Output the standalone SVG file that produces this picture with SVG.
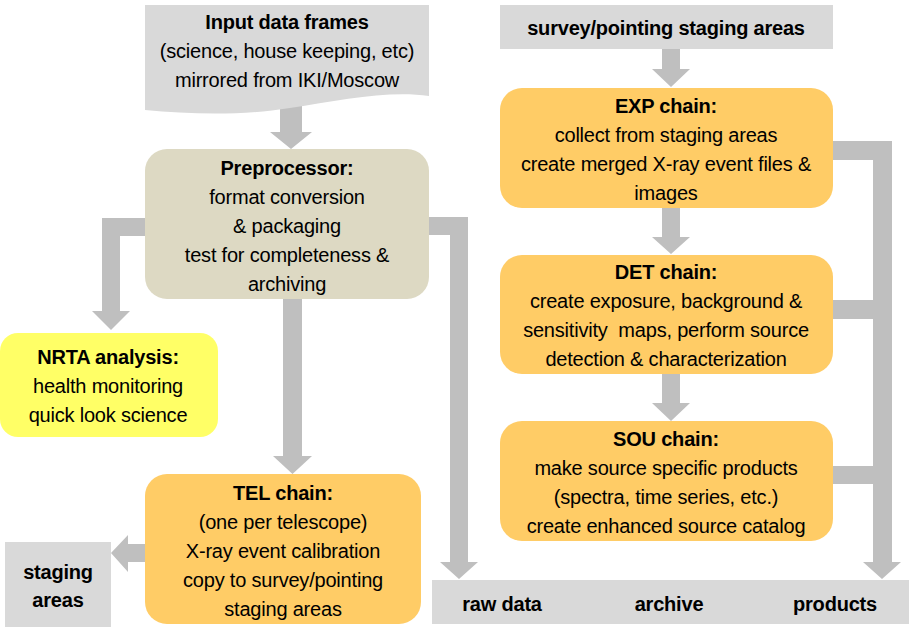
<svg xmlns="http://www.w3.org/2000/svg" width="909" height="627" viewBox="0 0 909 627">
<style>
text{font-family:"Liberation Sans",Arial,sans-serif;font-size:20px;letter-spacing:-0.2px;fill:#000;text-anchor:middle}
.b{font-weight:bold}
.conn{fill:#bfbfbf}
.gray{fill:#d9d9d9}
.tan{fill:#ddd9c3}
.org{fill:#ffcc66}
.yel{fill:#ffff66}
</style>
<g id="connectors">
<polygon class="conn" points="280,100 302,100 302,132 312,132 291,149 270,132 280,132"/>
<polygon class="conn" points="145,218 102,218 102,311 92,311 111,330 130,311 120,311 120,236 145,236"/>
<polygon class="conn" points="283,295 302,295 302,456 312,456 292.5,474 273,456 283,456"/>
<polygon class="conn" points="425,217 468,217 468,562 478,562 459,579 440,562 450,562 450,235 425,235"/>
<polygon class="conn" points="150,544 128,544 128,535 111,553 128,572 128,562 150,562"/>
<polygon class="conn" points="662,49 680,49 680,69 690,69 671,87 652,69 662,69"/>
<polygon class="conn" points="662,205 680,205 680,237 690,237 671,254 652,237 662,237"/>
<polygon class="conn" points="662,370 680,370 680,403 690,403 671,421 652,403 662,403"/>
<polygon class="conn" points="830,141 892,141 892,562 901,562 882,579 863,562 873,562 873,484 830,484 830,466 873,466 873,319 830,319 830,300 873,300 873,160 830,160"/>
</g>
<g id="input">
<path class="gray" d="M145,5 H429 V96 C390,90 340,100 290,108 C240,116 190,114 145,110 Z"/>
<text class="b" x="287" y="29">Input data frames</text>
<text x="287" y="58">(science, house keeping, etc)</text>
<text x="287" y="87">mirrored from IKI/Moscow</text>
</g>
<g id="preprocessor">
<rect class="tan" x="145" y="149" width="284" height="150" rx="22"/>
<text class="b" x="287" y="175">Preprocessor:</text>
<text x="287" y="204">format conversion</text>
<text x="287" y="233">&amp; packaging</text>
<text x="287" y="262">test for completeness &amp;</text>
<text x="287" y="291">archiving</text>
</g>
<g id="nrta">
<rect class="yel" x="0" y="333" width="218" height="104" rx="18"/>
<text class="b" x="108" y="364">NRTA analysis:</text>
<text x="108" y="393">health monitoring</text>
<text x="108" y="422">quick look science</text>
</g>
<g id="tel">
<rect class="org" x="145" y="474" width="276" height="150" rx="22"/>
<text class="b" x="283" y="500">TEL chain:</text>
<text x="283" y="529">(one per telescope)</text>
<text x="283" y="558">X-ray event calibration</text>
<text x="283" y="587">copy to survey/pointing</text>
<text x="283" y="616">staging areas</text>
</g>
<g id="staging">
<rect class="gray" x="5" y="542" width="106" height="85"/>
<text class="b" x="58" y="579">staging</text>
<text class="b" x="58" y="607">areas</text>
</g>
<g id="archive">
<rect class="gray" x="432" y="580" width="477" height="44"/>
<text class="b" x="502" y="611">raw data</text>
<text class="b" x="669" y="611">archive</text>
<text class="b" x="835" y="611">products</text>
</g>
<g id="survey">
<rect class="gray" x="500" y="5" width="333" height="44"/>
<text class="b" x="666" y="35">survey/pointing staging areas</text>
</g>
<g id="exp">
<rect class="org" x="500" y="88" width="333" height="120" rx="22"/>
<text class="b" x="666" y="113">EXP chain:</text>
<text x="666" y="142">collect from staging areas</text>
<text x="666" y="171">create merged X-ray event files &amp;</text>
<text x="666" y="200">images</text>
</g>
<g id="det">
<rect class="org" x="500" y="255" width="333" height="119" rx="22"/>
<text class="b" x="666" y="279">DET chain:</text>
<text x="666" y="308">create exposure, background &amp;</text>
<text x="666" y="337" xml:space="preserve">sensitivity  maps, perform source</text>
<text x="666" y="366">detection &amp; characterization</text>
</g>
<g id="sou">
<rect class="org" x="500" y="421" width="333" height="120" rx="22"/>
<text class="b" x="666" y="446">SOU chain:</text>
<text x="666" y="475">make source specific products</text>
<text x="666" y="504">(spectra, time series, etc.)</text>
<text x="666" y="533">create enhanced source catalog</text>
</g>
</svg>
